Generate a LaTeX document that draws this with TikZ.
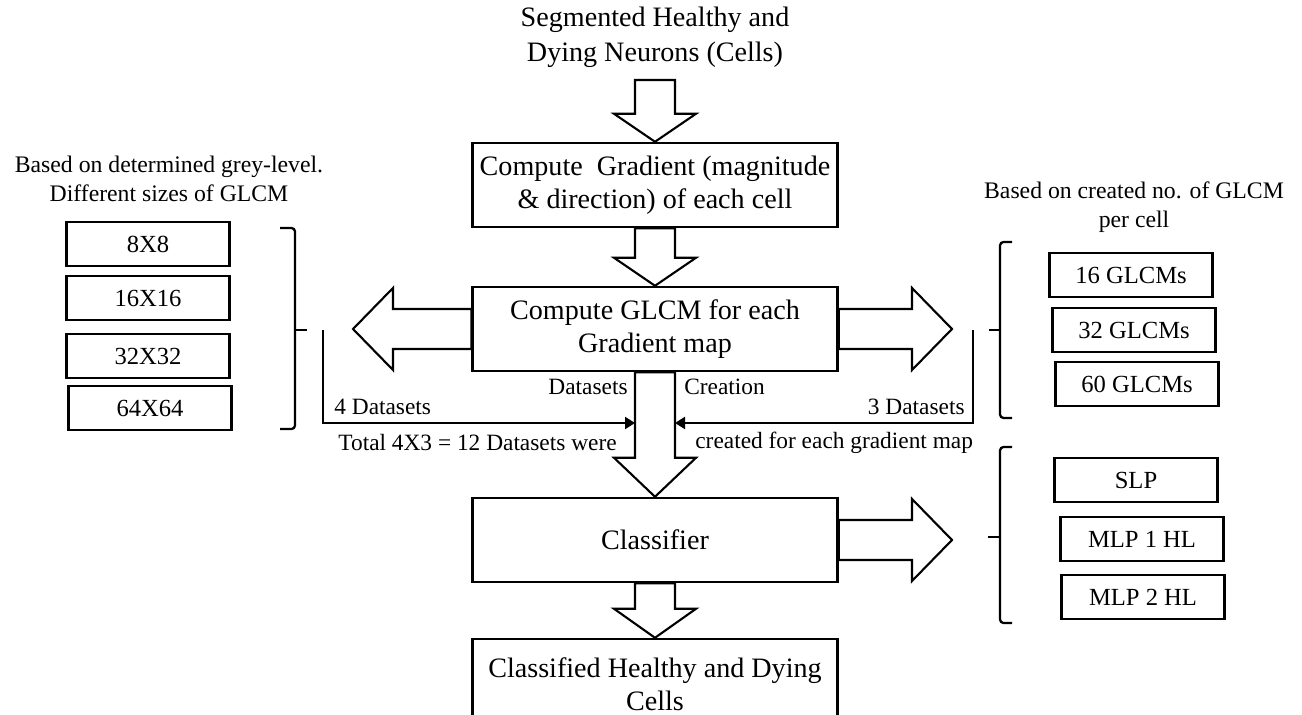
\documentclass[tikz,border=0pt]{standalone}
\usepackage{fontspec}
\setmainfont{Liberation Serif}
\usetikzlibrary{calc,arrows.meta}
\tikzset{
  box/.style={draw, line width=1.4pt, inner sep=2pt, minimum width=7.3cm, minimum height=1.68cm, align=center, font=\fontsize{16}{19}\selectfont},
  smallbox/.style={draw, line width=1.4pt, minimum width=3.26cm, minimum height=0.88cm, font=\fontsize{14}{16}\selectfont},
  note/.style={align=center, inner sep=0pt, font=\fontsize{13.5}{16.5}\selectfont},
  lbl/.style={inner sep=0pt, font=\fontsize{13.3}{16}\selectfont},
  fat/.style={line width=1.2pt, to path={let \p1=(\tikztostart), \p2=(\tikztotarget), \n1={atan2(\y2-\y1,\x2-\x1)} in
    ($(\p1)+(\n1+90:0.4cm)$) -- ($(\p2)+(\n1+180:#1)+(\n1+90:0.4cm)$) -- ($(\p2)+(\n1+180:#1)+(\n1+90:0.82cm)$)
    -- (\p2) -- ($(\p2)+(\n1+180:#1)+(\n1-90:0.82cm)$) -- ($(\p2)+(\n1+180:#1)+(\n1-90:0.4cm)$)
    -- ($(\p1)+(\n1-90:0.4cm)$) -- cycle}},
  fat/.default=0.8cm,
  feed/.style={line width=1.2pt, -{Triangle[length=2mm,width=2.4mm]}},
  brace/.style={line width=1.3pt, rounded corners=2pt}
}
\begin{document}
\begin{tikzpicture}[x=0.02cm, y=-0.02cm]
  \useasboundingbox (0,0) rectangle (1302,715);
  \node[align=center, inner sep=0pt, font=\fontsize{16}{20}\selectfont] (seg) at (655,37)
    {Segmented Healthy and\\Dying Neurons (Cells)};
  \coordinate (segfoot) at (655,80);
  \node[box] (grad) at (655,185) {Compute\ \ Gradient (magnitude\\\& direction) of each cell};
  \node[box] (glcm) at (655,329) {Compute GLCM for each\\Gradient map};
  \node[box] (cls) at (655,540) {Classifier};
  \node[box, minimum height=1.8cm] (res) at (655,684) {Classified Healthy and Dying\\Cells};

  \node[note] (lnote) at (169,179) {Based on determined grey-level.\\Different sizes of GLCM};
  \node[smallbox] (s8) at (148,244) {8X8};
  \node[smallbox] (s16) at (148,298) {16X16};
  \node[smallbox] (s32) at (148,356) {32X32};
  \node[smallbox] (s64) at (150,408) {64X64};

  \node[note] (rnote) at (1134,207) {Based on created no. of GLCM\\per cell};
  \node[smallbox] (g16) at (1131,275) {16 GLCMs};
  \node[smallbox] (g32) at (1134,330) {32 GLCMs};
  \node[smallbox] (g60) at (1137,384) {60 GLCMs};

  \node[smallbox] (slp) at (1136,480) {SLP};
  \node[smallbox] (mlp1) at (1142,539) {MLP 1 HL};
  \node[smallbox] (mlp2) at (1143,597) {MLP 2 HL};

  \coordinate (ltip) at (353,329);
  \coordinate (rtip) at (952,329);
  \coordinate (ctip) at (952,540);
  \begin{scope}
    \draw[fat=0.56cm] (segfoot) to (grad.north);
    \draw[fat=0.56cm] (grad.south) to (glcm.north);
    \draw[fat] (glcm.west) to (ltip);
    \draw[fat] (glcm.east) to (rtip);
    \draw[fat=0.78cm] (glcm.south) to (cls.north);
    \draw[fat] (cls.east) to (ctip);
    \draw[fat=0.58cm] (cls.south) to (res.north);
  \end{scope}

  \coordinate (lfoot) at (323,330);
  \coordinate (lin) at (635,423);
  \coordinate (rfoot) at (973,330);
  \coordinate (rin) at (675,423);
  \draw[feed] (lfoot) |- (lin);
  \draw[feed] (rfoot) |- (rin);
  \node[lbl, anchor=east] (dsets) at (628,387) {Datasets};
  \node[lbl, anchor=west] (creat) at (684,387) {Creation};
  \node[lbl, anchor=west] (four) at (334,407) {4 Datasets};
  \node[lbl, anchor=east] (three) at (965,407) {3 Datasets};
  \node[lbl, anchor=east] (total) at (617,443) {Total 4X3 = 12 Datasets were};
  \node[lbl, anchor=west] (made) at (695,443) {created for each gradient map};

  \draw[brace] (280,228) -- (295,228) -- (295,429) -- (280,429);
  \draw[brace] (295,330) -- (307,330);
  \draw[brace] (1012,242) -- (1000,242) -- (1000,418) -- (1012,418);
  \draw[brace] (1000,330) -- (989,330);
  \draw[brace] (1012,447) -- (1000,447) -- (1000,623) -- (1012,623);
  \draw[brace] (1000,537) -- (988,537);
\end{tikzpicture}
\end{document}
